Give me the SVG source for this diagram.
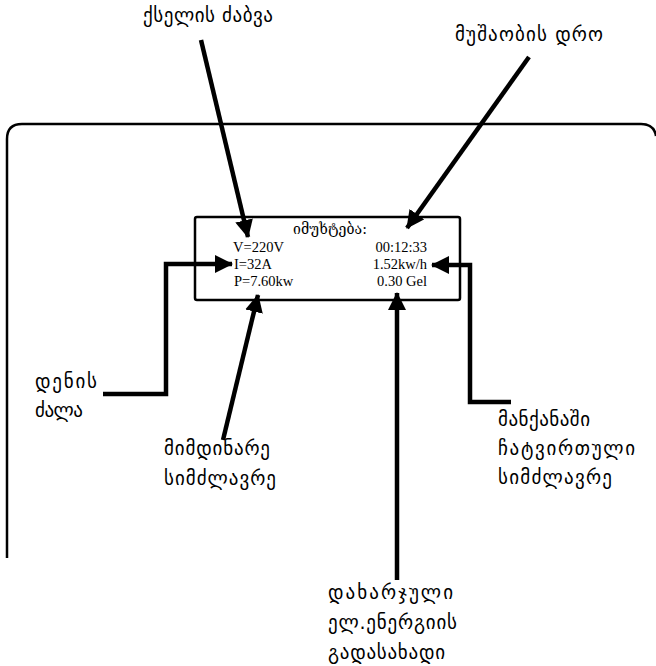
<svg xmlns="http://www.w3.org/2000/svg" width="656" height="666" viewBox="0 0 656 666">
<style>
.lbl{font-family:"DejaVu Sans",sans-serif;font-size:19px;fill:#000}
.mono{font-family:"Liberation Serif",serif;font-size:14.5px;fill:#000}
.geo{font-family:"DejaVu Serif","DejaVu Sans",serif;font-size:14px;fill:#000}
.conn{fill:none;stroke:#000;stroke-width:4.5}
</style>
<defs>
<marker id="ah" markerUnits="userSpaceOnUse" markerWidth="18" markerHeight="18" viewBox="0 0 18 18" refX="17" refY="9" orient="auto">
<path d="M0,0 L18,9 L0,18 Z" fill="#000"/>
</marker>
</defs>
<g id="frame">
<path d="M7,558 V139 Q7,124 22,124 H641 Q654,124 656,136" fill="none" stroke="#000" stroke-width="2.5"/>
</g>
<g id="display">
<rect x="195" y="217" width="265" height="83" rx="2" fill="#fff" stroke="#000" stroke-width="2.5"/>
<text class="geo" x="330" y="234" text-anchor="middle" textLength="74">იმუხტება:</text>
<text class="mono" x="233" y="252">V=220V</text>
<text class="mono" x="234" y="269">I=32A</text>
<text class="mono" x="234" y="286">P=7.60kw</text>
<text class="mono" x="427" y="252" text-anchor="end">00:12:33</text>
<text class="mono" x="427" y="269" text-anchor="end">1.52kw/h</text>
<text class="mono" x="427" y="286" text-anchor="end">0.30 Gel</text>
</g>
<g id="connectors">
<line class="conn" x1="201" y1="40" x2="248" y2="237" marker-end="url(#ah)"/>
<line class="conn" x1="529" y1="57" x2="407" y2="228" marker-end="url(#ah)"/>
<polyline class="conn" points="103,394 166,394 166,264 232,264" marker-end="url(#ah)"/>
<line class="conn" x1="223" y1="440" x2="258" y2="295" marker-end="url(#ah)"/>
<line class="conn" x1="397" y1="580" x2="397" y2="293" marker-end="url(#ah)"/>
<polyline class="conn" points="511,402 470,402 470,265 432,265" marker-end="url(#ah)"/>
</g>
<g id="label-voltage"><text class="lbl" x="143" y="22" textLength="130">ქსელის ძაბვა</text></g>
<g id="label-time"><text class="lbl" x="455" y="41" textLength="148">მუშაობის დრო</text></g>
<g id="label-current"><text class="lbl" x="35" y="388" textLength="62">დენის</text><text class="lbl" x="35" y="417" textLength="48">ძალა</text></g>
<g id="label-power"><text class="lbl" x="164" y="455" textLength="106">მიმდინარე</text><text class="lbl" x="164" y="485" textLength="112">სიმძლავრე</text></g>
<g id="label-load"><text class="lbl" x="498" y="426" textLength="92">მანქანაში</text><text class="lbl" x="498" y="455" textLength="137">ჩატვირთული</text><text class="lbl" x="498" y="484" textLength="114">სიმძლავრე</text></g>
<g id="label-cost"><text class="lbl" x="328" y="599" textLength="125">დახარჯული</text><text class="lbl" x="328" y="629" textLength="129">ელ.ენერგიის</text><text class="lbl" x="328" y="659" textLength="117">გადასახადი</text></g>
</svg>
